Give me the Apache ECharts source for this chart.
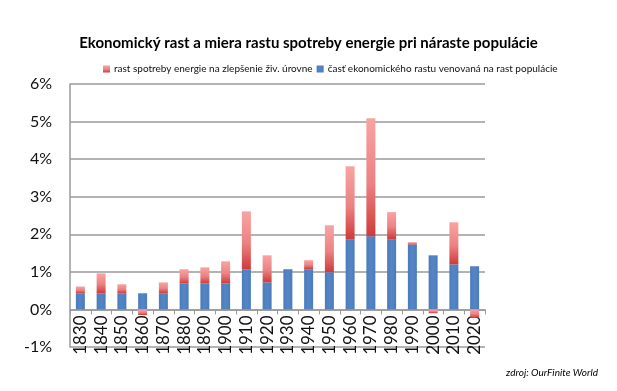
<!DOCTYPE html>
<html><head><meta charset="utf-8">
<script src="https://cdn.jsdelivr.net/npm/echarts@6/dist/echarts.min.js"></script>
<style>html,body{margin:0;padding:0;background:#fff}#c{width:617px;height:391px}</style>
</head><body><div id="c"></div>
<script>
const years = ['1830','1840','1850','1860','1870','1880','1890','1900','1910','1920','1930','1940','1950','1960','1970','1980','1990','2000','2010','2020'];
const population = [0.43,0.43,0.43,0.43,0.43,0.69,0.69,0.69,1.07,0.72,1.07,1.07,0.99,1.87,1.95,1.87,1.73,1.44,1.20,1.15];
const energyExtra = [0.18,0.53,0.24,-0.15,0.29,0.38,0.43,0.59,1.54,0.72,0,0.24,1.25,1.94,3.14,0.72,0.06,-0.10,1.12,-0.22];
const yTicks = [-1,0,1,2,3,4,5,6];
const nameRed = 'rast spotreby energie na zlepšenie živ. úrovne';
const nameBlue = 'časť ekonomického rastu venovaná na rast populácie';

const FONT = 'Lato, "Open Sans", sans-serif';
const GRID_H = 263;
const chart = echarts.init(document.getElementById('c'), null, {renderer:'canvas'});
chart.setOption({
  animation:false,
  backgroundColor:'#fff',
  title:[
    {text:'Ekonomický rast a miera rastu spotreby energie pri náraste populácie', left:'center', top:31,
     textStyle:{fontFamily:FONT, fontWeight:'bold', fontSize:15, color:'#000'}},
    {text:'zdroj: OurFinite World', right:14, top:363,
     textStyle:{fontFamily:FONT, fontStyle:'italic', fontWeight:'normal', fontSize:10, color:'#000'}}
  ],
  legend:{
    data:[nameRed, nameBlue], top:59, left:98, itemWidth:7, itemHeight:7, itemGap:4,
    icon:'rect',
    textStyle:{fontFamily:FONT, fontSize:10, color:'#111', padding:[0,0,0,-1]}
  },
  grid:{left:70, width:415, top:84, height:GRID_H, containLabel:false},
  xAxis:{
    type:'category', data:years,
    axisLine:{onZero:false, lineStyle:{color:'#9a9a9a', width:1.5}},
    offset: -(GRID_H / (yTicks.length - 1)) * (0 - yTicks[0]),
    axisTick:{show:true, alignWithLabel:false, length:5, lineStyle:{color:'#9a9a9a'}},
    axisLabel:{rotate:90, fontFamily:FONT, fontSize:17, color:'#111', margin:6, interval:0}
  },
  yAxis:{
    type:'value', min:yTicks[0], max:yTicks[yTicks.length-1], interval:1,
    axisLine:{show:true, lineStyle:{color:'#9a9a9a', width:1.5}},
    axisTick:{show:false},
    splitLine:{lineStyle:{color:'#9a9a9a', width:1.5}},
    axisLabel:{formatter:v=>v+'%', fontFamily:FONT, fontSize:16, color:'#111', margin:18}
  },
  series:[
    {name:nameBlue, type:'bar', stack:'a', data:population, barWidth:9,
     itemStyle:{color:new echarts.graphic.LinearGradient(0,0,1,0,[{offset:0,color:'#4a7cbc'},{offset:0.5,color:'#5585c4'},{offset:1,color:'#4a7cbc'}])}},
    {name:nameRed, type:'bar', stack:'a', data:energyExtra, barWidth:9,
     itemStyle:{color:new echarts.graphic.LinearGradient(0,0,0,1,[{offset:0,color:'#f9a3a3'},{offset:0.55,color:'#ec8282'},{offset:1,color:'#cf3a3a'}])}}
  ]
});
</script></body></html>
